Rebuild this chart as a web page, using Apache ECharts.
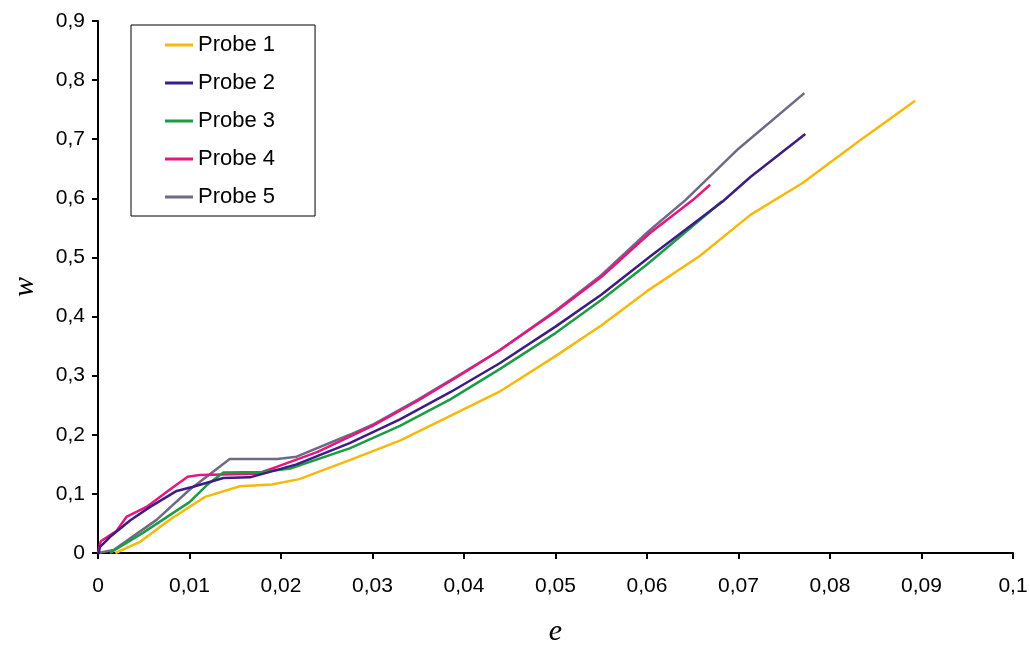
<!DOCTYPE html>
<html>
<head>
    <meta charset="UTF-8">
    <title>Probe w(e)</title>
    <script src="https://cdn.jsdelivr.net/npm/echarts@6/dist/echarts.min.js"></script>
    <style>
        body { margin: 0; background: #fff; }
        #main { width: 1030px; height: 646px; }
    </style>
</head>
<body>
<div id="main"></div>
<script>
    var probe1 = [[0.0019,0],[0.0046,0.019],[0.008,0.058],[0.0117,0.095],[0.0155,0.113],[0.019,0.116],[0.022,0.125],[0.0275,0.157],[0.033,0.19],[0.038,0.228],[0.044,0.274],[0.05,0.333],[0.055,0.385],[0.06,0.443],[0.0658,0.503],[0.0713,0.572],[0.077,0.626],[0.083,0.695],[0.0893,0.765]];
    var probe2 = [[0,-0.008],[0.0002,0.01],[0.0013,0.027],[0.0035,0.055],[0.0057,0.078],[0.0086,0.105],[0.0104,0.112],[0.0137,0.127],[0.0166,0.128],[0.0185,0.136],[0.0217,0.15],[0.0275,0.186],[0.033,0.226],[0.0385,0.272],[0.0439,0.321],[0.05,0.383],[0.055,0.437],[0.0603,0.501],[0.0683,0.595],[0.0713,0.636],[0.0773,0.709]];
    var probe3 = [[0.0013,0],[0.0049,0.034],[0.01,0.086],[0.0119,0.115],[0.0137,0.136],[0.018,0.137],[0.021,0.143],[0.0275,0.177],[0.033,0.215],[0.0385,0.26],[0.0439,0.311],[0.05,0.372],[0.055,0.428],[0.06,0.488],[0.0682,0.595]];
    var probe4 = [[0,0],[0.0003,0.02],[0.002,0.037],[0.0031,0.061],[0.0053,0.078],[0.0079,0.108],[0.0098,0.129],[0.0111,0.132],[0.0174,0.134],[0.0196,0.146],[0.024,0.171],[0.03,0.215],[0.035,0.258],[0.04,0.305],[0.0439,0.343],[0.05,0.408],[0.055,0.467],[0.0603,0.541],[0.065,0.597],[0.0669,0.623]];
    var probe5 = [[0,0],[0.0017,0.005],[0.0064,0.056],[0.01,0.107],[0.0144,0.159],[0.0196,0.159],[0.0217,0.163],[0.0275,0.2],[0.03,0.217],[0.035,0.26],[0.04,0.306],[0.0439,0.343],[0.05,0.41],[0.055,0.47],[0.0603,0.546],[0.0642,0.597],[0.07,0.684],[0.0772,0.778]];

    var seriesNames = ['Probe 1', 'Probe 2', 'Probe 3', 'Probe 4', 'Probe 5'];
    var seriesData = [probe1, probe2, probe3, probe4, probe5];
    var colors = ['#f5b90c', '#3d1c84', '#1a9c42', '#e8157f', '#6f6985'];

    var chart = echarts.init(document.getElementById('main'), null, {renderer: 'canvas'});

    function komma(v, d) {
        return String(parseFloat(v.toFixed(d))).replace('.', ',');
    }

    var series = seriesNames.map(function (n, i) {
        return {
            name: n,
            type: 'line',
            data: seriesData[i],
            showSymbol: false,
            lineStyle: { width: 2.5, color: colors[i] },
            itemStyle: { color: colors[i] },
            z: 5 - i
        };
    });

    var option = {
        animation: false,
        color: colors,
        textStyle: { fontFamily: 'Liberation Sans, Arial, sans-serif' },
        grid: { left: 98, right: 17, top: 21, bottom: 93, containLabel: false, outerBoundsMode: 'none' },
        legend: {
            orient: 'vertical',
            left: 131,
            top: 25,
            padding: [9, 40, 8, 34],
            borderColor: '#000',
            borderWidth: 1,
            icon: 'rect',
            itemWidth: 28,
            itemHeight: 3,
            itemGap: 16,
            textStyle: { fontSize: 22, color: '#000', lineHeight: 22 },
            data: seriesNames
        },
        xAxis: {
            type: 'value',
            min: 0, max: 0.1, interval: 0.01,
            name: 'e',
            nameLocation: 'middle',
            nameGap: 64,
            nameTextStyle: { fontFamily: 'Liberation Serif, serif', fontStyle: 'italic', fontSize: 30, color: '#000' },
            axisLine: { onZero: false, lineStyle: { color: '#000', width: 2 } },
            axisTick: { show: true, length: 6, lineStyle: { color: '#000', width: 2 } },
            axisLabel: { fontSize: 21, color: '#000', margin: 23, formatter: function (v) { return komma(v, 2); } },
            splitLine: { show: false }
        },
        yAxis: {
            type: 'value',
            min: 0, max: 0.9, interval: 0.1,
            name: 'w',
            nameLocation: 'middle',
            nameGap: 58,
            nameTextStyle: { fontFamily: 'Liberation Serif, serif', fontStyle: 'italic', fontSize: 30, color: '#000' },
            axisLine: { show: true, onZero: false, lineStyle: { color: '#000', width: 2 } },
            axisTick: { show: true, length: 6, lineStyle: { color: '#000', width: 2 } },
            axisLabel: { fontSize: 21, color: '#000', margin: 13, formatter: function (v) { return komma(v, 1); } },
            splitLine: { show: false }
        },
        series: series
    };
    chart.setOption(option);
</script>
</body>
</html>
